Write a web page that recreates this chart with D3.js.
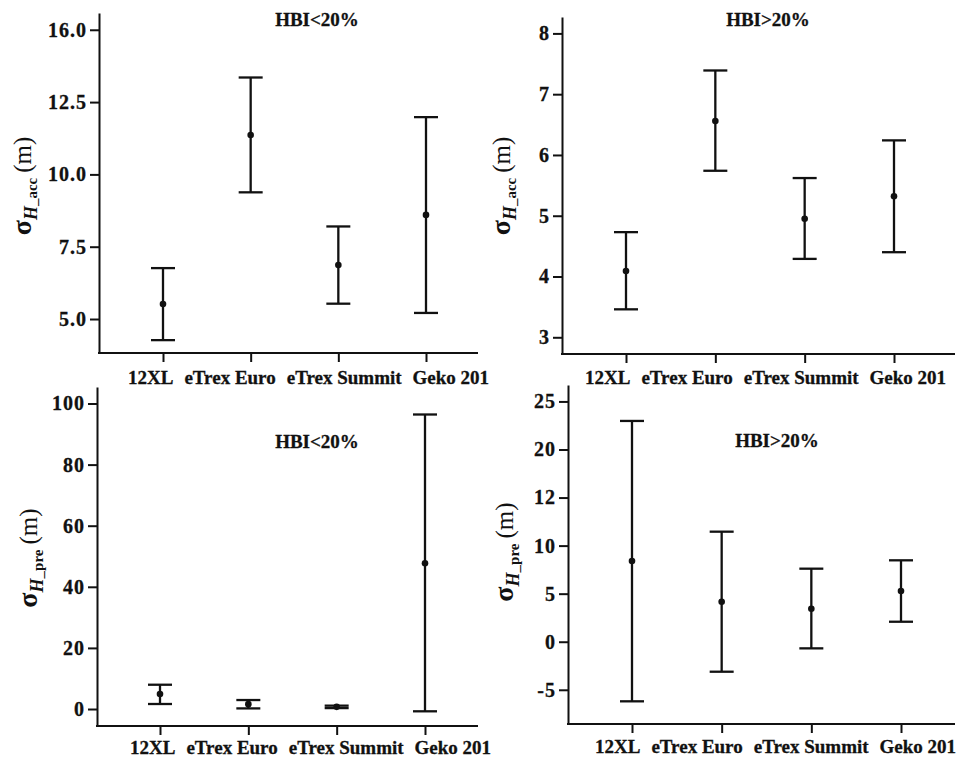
<!DOCTYPE html>
<html>
<head>
<meta charset="utf-8">
<script src="https://cdn.jsdelivr.net/npm/d3@7"></script>
<style>
  body { margin: 0; background: #fff; }
  svg { display: block; }
  text { font-family: "Liberation Serif", "Times New Roman", serif; fill: #111; }
</style>
</head>
<body>
<div id="chart"></div>
<script>
const categories = ["12XL", "eTrex Euro", "eTrex Summit", "Geko 201"]

// sigma H_acc, HBI < 20%
const accLowMean = [5.52, 11.36, 6.87, 8.60]
const accLowUpper = [6.76, 13.35, 8.20, 11.98]
const accLowLower = [4.27, 9.38, 5.53, 5.21]
const accLowTicks = [5, 7.5, 10, 12.5, 15]
const accLowTickLabels = ["5.0", "7.5", "10.0", "12.5", "16.0"]

// sigma H_acc, HBI > 20%
const accHighMean = [4.09, 6.56, 4.95, 5.32]
const accHighUpper = [4.73, 7.39, 5.62, 6.24]
const accHighLower = [3.46, 5.74, 4.29, 4.40]
const accHighTicks = [3, 4, 5, 6, 7, 8]
const accHighTickLabels = ["3", "4", "5", "6", "7", "8"]

// sigma H_pre, HBI < 20%
const preLowMean = [4.9, 1.6, 0.7, 47.7]
const preLowUpper = [7.95, 2.94, 1.1, 96.4]
const preLowLower = [1.64, 0.2, 0.3, -0.75]
const preLowTicks = [0, 20, 40, 60, 80, 100]
const preLowTickLabels = ["0", "20", "40", "60", "80", "100"]

// sigma H_pre, HBI > 20%
const preHighMean = [8.4, 4.16, 3.43, 5.28]
const preHighUpper = [22.97, 11.45, 7.6, 8.47]
const preHighLower = [-6.2, -3.12, -0.69, 2.08]
const preHighTicks = [-5, 0, 5, 10, 15, 20, 25]
const preHighTickLabels = ["-5", "0", "5", "10", "12", "20", "25"]

const WIDTH = 965
const HEIGHT = 759
const CAP = 12
const LABEL_GAP = 11

const panels = [
  { mean: accLowMean, upper: accLowUpper, lower: accLowLower, ticks: accLowTicks, tickLabels: accLowTickLabels,
    title: "HBI<20%", sub: "_acc",
    left: 99, right: 478, top: 13, bottom: 353, xFirst: 163, xLast: 426, domain: [3.825, 15.58],
    titleX: 317, titleY: 26, yLabelX: 31, yLabelY: 186, labelShift: -35, labelDrop: 31 },
  { mean: accHighMean, upper: accHighUpper, lower: accHighLower, ticks: accHighTicks, tickLabels: accHighTickLabels,
    title: "HBI>20%", sub: "_acc",
    left: 562, right: 955, top: 17, bottom: 354, xFirst: 626, xLast: 894, domain: [2.725, 8.27],
    titleX: 768, titleY: 26, yLabelX: 510, yLabelY: 186, labelShift: -41, labelDrop: 30 },
  { mean: preLowMean, upper: preLowUpper, lower: preLowLower, ticks: preLowTicks, tickLabels: preLowTickLabels,
    title: "HBI<20%", sub: "_pre",
    left: 97, right: 478, top: 387, bottom: 726, xFirst: 160, xLast: 425, domain: [-5.56, 105.4],
    titleX: 317, titleY: 448, yLabelX: 37, yLabelY: 558, labelShift: -30, labelDrop: 28 },
  { mean: preHighMean, upper: preHighUpper, lower: preHighLower, ticks: preHighTicks, tickLabels: preHighTickLabels,
    title: "HBI>20%", sub: "_pre",
    left: 568, right: 955, top: 385, bottom: 724, xFirst: 632, xLast: 901, domain: [-8.56, 26.71],
    titleX: 777, titleY: 447, yLabelX: 513, yLabelY: 552, labelShift: -37, labelDrop: 29 },
]

const svg = d3.select("#chart")
              .append("svg")
              .attr("width", WIDTH)
              .attr("height", HEIGHT)

function drawPanel(p) {
  const g = svg.append("g")

  const x = d3.scalePoint()
              .domain(categories)
              .range([p.xFirst, p.xLast])
  const y = d3.scaleLinear()
              .domain(p.domain)
              .range([p.bottom, p.top])

  // y axis
  const yAxis = g.append("g")
                 .attr("transform", `translate(${p.left}, 0)`)
                 .call(d3.axisLeft(y)
                         .tickValues(p.ticks)
                         .tickFormat((d, i) => p.tickLabels[i])
                         .tickSize(9)
                         .tickSizeOuter(0)
                         .tickPadding(3))
  yAxis.select(".domain").attr("stroke-width", 2).attr("stroke", "#111")
  yAxis.selectAll(".tick line").attr("stroke-width", 2).attr("stroke", "#111")
  yAxis.selectAll(".tick text")
       .attr("font-family", "Liberation Serif")
       .attr("font-size", 20)
       .attr("font-weight", "bold")
       .attr("letter-spacing", 1)
       .attr("fill", "#111")
       .attr("stroke", "#111")
       .attr("stroke-width", 0.3)

  // x axis
  const xAxis = g.append("g")
                 .attr("transform", `translate(0, ${p.bottom})`)
                 .call(d3.axisBottom(x).tickSize(9).tickSizeOuter(0).tickFormat(""))
  xAxis.select(".domain").remove()
  xAxis.selectAll(".tick line").attr("stroke-width", 2).attr("stroke", "#111")
  g.append("line")
   .attr("x1", p.left - 1)
   .attr("x2", p.right)
   .attr("y1", p.bottom)
   .attr("y2", p.bottom)
   .attr("stroke", "#111")
   .attr("stroke-width", 2)

  // category labels flow one after another
  let cursor = x(categories[0]) + p.labelShift
  categories.forEach(c => {
    const t = g.append("text")
               .attr("x", cursor)
               .attr("y", p.bottom + p.labelDrop)
               .attr("font-size", 19)
               .attr("font-weight", "bold")
               .attr("stroke", "#111")
               .attr("stroke-width", 0.3)
               .text(c)
    cursor += t.node().getComputedTextLength() + LABEL_GAP
  })

  // title
  g.append("text")
   .attr("x", p.titleX)
   .attr("y", p.titleY)
   .attr("text-anchor", "middle")
   .attr("font-size", 19)
   .attr("font-weight", "bold")
   .attr("stroke", "#111")
   .attr("stroke-width", 0.3)
   .text(p.title)

  // y label
  const yl = g.append("text")
              .attr("transform", `translate(${p.yLabelX}, ${p.yLabelY}) rotate(-90)`)
              .attr("text-anchor", "middle")
  yl.append("tspan").attr("font-size", 28).attr("font-weight", "bold").text("σ")
  yl.append("tspan").attr("font-size", 18).attr("font-weight", "bold").attr("font-style", "italic")
    .attr("dy", 6).text("H")
  yl.append("tspan").attr("font-size", 15).attr("font-weight", "bold").text(p.sub)
  yl.append("tspan").attr("font-size", 25).attr("dy", -6).attr("dx", 5).text("(m)")

  // error bars
  const bars = g.selectAll(".bar")
                .data(categories)
                .join("g")
                .attr("class", "bar")
  bars.append("line")
      .attr("x1", d => x(d))
      .attr("x2", d => x(d))
      .attr("y1", (d, i) => y(p.upper[i]))
      .attr("y2", (d, i) => y(p.lower[i]))
      .attr("stroke", "#111")
      .attr("stroke-width", 2.3)
  bars.append("line")
      .attr("x1", d => x(d) - CAP)
      .attr("x2", d => x(d) + CAP)
      .attr("y1", (d, i) => y(p.upper[i]))
      .attr("y2", (d, i) => y(p.upper[i]))
      .attr("stroke", "#111")
      .attr("stroke-width", 2.3)
  bars.append("line")
      .attr("x1", d => x(d) - CAP)
      .attr("x2", d => x(d) + CAP)
      .attr("y1", (d, i) => y(p.lower[i]))
      .attr("y2", (d, i) => y(p.lower[i]))
      .attr("stroke", "#111")
      .attr("stroke-width", 2.3)
  bars.append("circle")
      .attr("cx", d => x(d))
      .attr("cy", (d, i) => y(p.mean[i]))
      .attr("r", 3.3)
      .attr("fill", "#111")
}

panels.forEach(drawPanel)
</script>
</body>
</html>
